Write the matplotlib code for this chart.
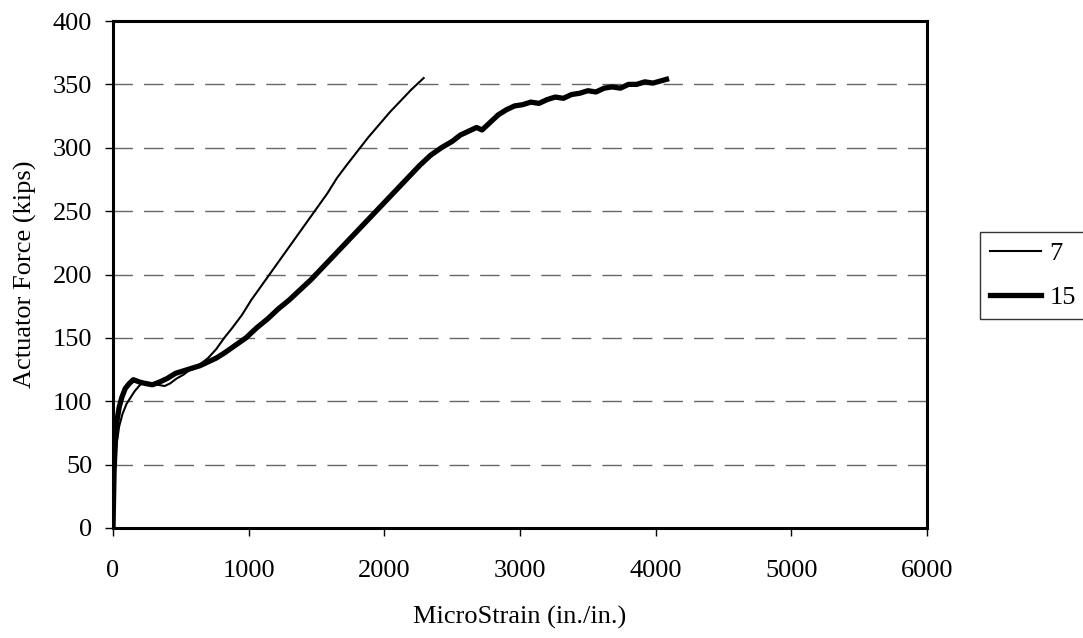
import matplotlib
matplotlib.use("Agg")
import matplotlib.pyplot as plt

plt.rcParams['font.family'] = ['Liberation Serif', 'DejaVu Serif']

# Series "7" (thin)
x7 = [0, 10, 25, 45, 70, 100, 130, 160, 200, 240, 280, 330, 380, 420, 470, 520, 580,
      640, 700, 760, 820, 880, 950, 1020, 1100, 1180, 1260, 1340, 1420, 1500,
      1580, 1650, 1720, 1800, 1880, 1960, 2040, 2120, 2200, 2290]
y7 = [0, 40, 65, 80, 90, 98, 103, 108, 113, 115, 114, 113, 112, 114, 118, 121, 126,
      129, 134, 141, 150, 158, 168, 180, 192, 204, 216, 228, 240, 252,
      264, 276, 286, 297, 308, 318, 328, 337, 346, 355]

# Series "15" (thick)
x15 = [0, 8, 18, 30, 45, 65, 90, 120, 150, 175, 200, 240, 290, 340, 400, 460, 520, 580,
       640, 700, 760, 820, 900, 980, 1060, 1140, 1220, 1300, 1380, 1460, 1540,
       1620, 1700, 1780, 1860, 1940, 2020, 2100, 2180, 2260, 2340, 2420, 2500,
       2560, 2620, 2680, 2720, 2780, 2840, 2900, 2960, 3020, 3080, 3140, 3200,
       3260, 3320, 3380, 3440, 3500, 3560, 3620, 3680, 3740, 3800, 3860, 3920,
       3980, 4080]
y15 = [0, 45, 70, 85, 95, 103, 110, 114, 117, 116, 115, 114, 113, 115, 118, 122, 124, 126,
       128, 131, 134, 138, 144, 150, 158, 165, 173, 180, 188, 196, 205,
       214, 223, 232, 241, 250, 259, 268, 277, 286, 294, 300, 305,
       310, 313, 316, 314, 320, 326, 330, 333, 334, 336, 335, 338,
       340, 339, 342, 343, 345, 344, 347, 348, 347, 350, 350, 352,
       351, 354]

xticks = [0, 1000, 2000, 3000, 4000, 5000, 6000]
yticks = [0, 50, 100, 150, 200, 250, 300, 350, 400]

FS = 19

fig = plt.figure(figsize=(10.83, 6.38), dpi=100)
L, R, T, B = 113, 927, 21, 528
ax = fig.add_axes([L/1083, 1-B/638, (R-L)/1083, (B-T)/638])

ax.plot(x7, y7, color='black', lw=1.5, label='7')
ax.plot(x15, y15, color='black', lw=3.8, label='15')

ax.set_xlim(0, 6000)
ax.set_ylim(0, 400)
ax.set_xticks(xticks)
ax.set_yticks(yticks)
ax.tick_params(labelsize=FS, direction='out', length=6, width=1)
ax.tick_params(axis='x', pad=17)
ax.tick_params(axis='y', pad=9)
for y in yticks[1:-1]:
    ax.axhline(y, color='#666666', lw=1, ls=(0, (14, 8)), zorder=0)
for s in ax.spines.values():
    s.set_linewidth(2.2)
    s.set_color('black')

ax.set_xlabel('MicroStrain (in./in.)', fontsize=FS, labelpad=17)
ax.set_ylabel('Actuator Force (kips)', fontsize=FS, labelpad=11)

leg = fig.legend(loc='upper left', bbox_to_anchor=(980/1083, 1-232/638),
                 fontsize=FS, frameon=True, fancybox=False, edgecolor='black',
                 handlelength=1.95, handletextpad=0.3, borderpad=0.38,
                 labelspacing=0.75, borderaxespad=0)
leg.get_frame().set_linewidth(1)

fig.savefig('out.png', dpi=100)
